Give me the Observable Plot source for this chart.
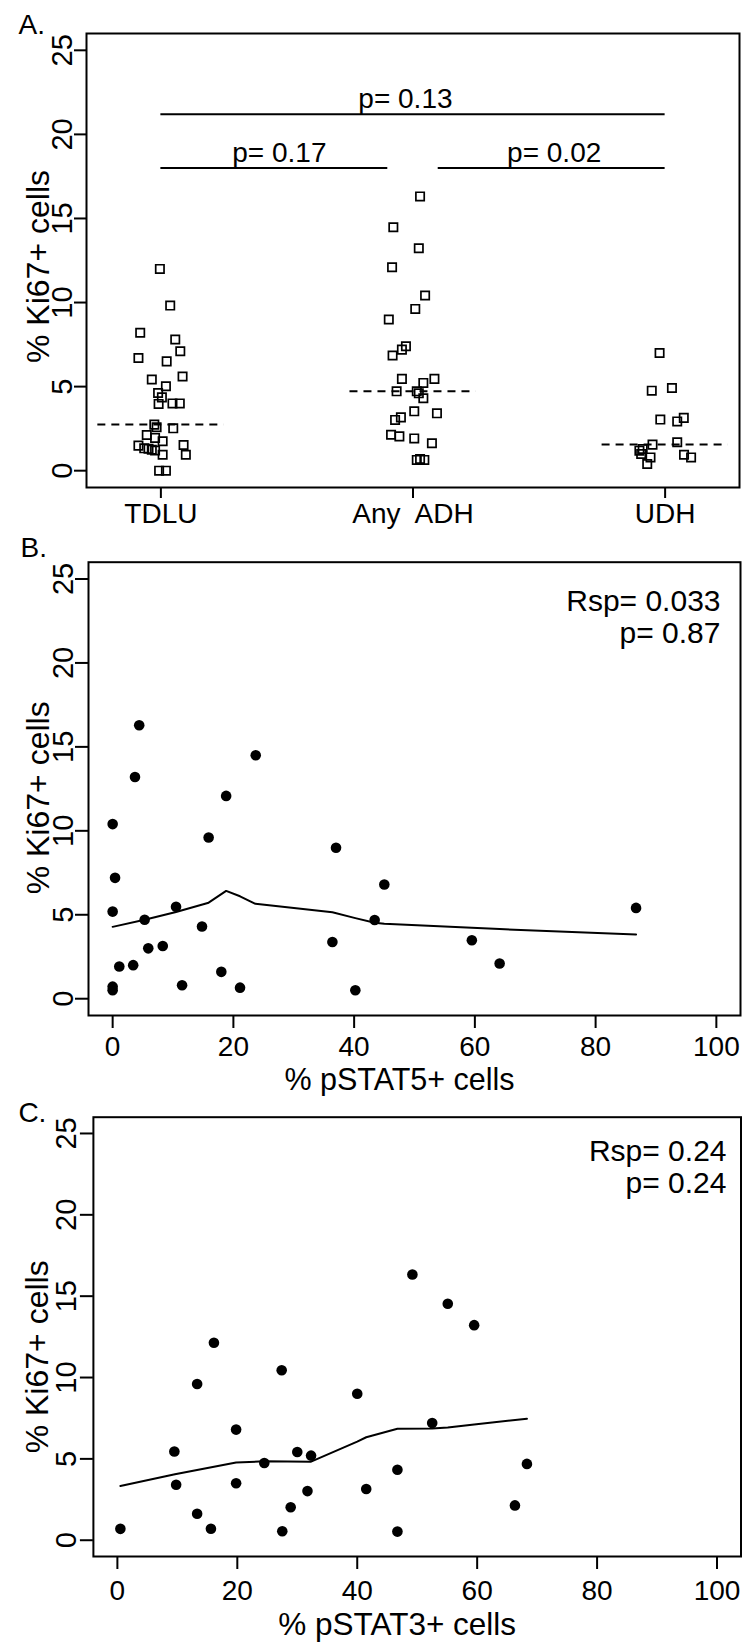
<!DOCTYPE html>
<html><head><meta charset="utf-8">
<script src="https://cdn.jsdelivr.net/npm/d3@7"></script>
<script src="https://cdn.jsdelivr.net/npm/@observablehq/plot@0.6"></script>
<style>
body{margin:0;background:#fff;}
#chart svg{display:block;}
#chart svg text{white-space:pre;}
</style></head><body><div id="chart"></div>
<script>
// ---------- Panel A data ----------
const groups = ["TDLU", "Any  ADH", "UDH"];
const tdluKi67 = [12.0, 9.82, 8.2, 7.8, 7.1, 6.7, 6.5, 5.6, 5.42, 5.02, 4.62, 4.36, 3.97, 4.0, 4.0, 2.74, 2.58, 2.52, 2.12, 1.95, 1.75, 1.49, 1.53, 1.33, 1.3, 1.25, 1.2, 0.95, 0.95, 0.0, 0.0];
const tdluJitter = [-0.004, 0.037, -0.082, 0.057, 0.077, -0.089, 0.023, 0.086, -0.036, 0.02, -0.011, 0.004, -0.009, 0.046, 0.075, -0.026, -0.017, 0.049, -0.056, -0.023, 0.007, -0.089, 0.09, -0.066, -0.049, -0.036, -0.023, 0.007, 0.099, -0.007, 0.02];
const adhKi67 = [16.31, 14.48, 13.23, 12.1, 10.42, 9.62, 8.99, 7.4, 7.2, 6.85, 5.46, 5.46, 5.22, 4.72, 4.72, 4.6, 4.31, 3.53, 3.41, 3.17, 3.02, 2.14, 2.04, 1.92, 1.63, 0.64, 0.7, 0.64];
const adhJitter = [0.028, -0.078, 0.023, -0.083, 0.048, 0.009, -0.096, -0.028, -0.044, -0.081, -0.044, 0.085, 0.041, -0.065, 0.015, 0.023, 0.041, 0.005, 0.095, -0.048, -0.071, -0.087, -0.054, 0.005, 0.075, 0.015, 0.028, 0.045];
const udhKi67 = [7.0, 4.76, 4.92, 3.04, 2.93, 3.14, 1.55, 1.69, 1.19, 0.99, 0.79, 0.4, 0.95, 0.79, 1.29];
const udhJitter = [-0.022, -0.053, 0.027, -0.019, 0.048, 0.074, -0.05, 0.048, -0.102, -0.095, -0.058, -0.071, 0.075, 0.103, -0.089];
const sigFrom = [1, 1, 2.1];
const sigTo = [3, 1.9, 3];
const sigLevel = [21.2, 18.0, 18.0];
const sigLabelX = [1.97, 1.47, 2.56];
const sigLabels = ["p= 0.13", "p= 0.17", "p= 0.02"];

// ---------- Panel B data ----------
const pstat5 = [0, 0.4, 0, 0, 0, 1.1, 3.4, 5.3, 5.9, 8.3, 10.5, 11.5, 14.8, 15.9, 18.0, 21.1, 36.4, 37.0, 40.2, 43.4, 45.0, 59.5, 64.1, 86.7, 4.4, 3.7, 23.7, 18.8];
const ki67B = [10.4, 7.2, 5.19, 0.72, 0.5, 1.92, 2.0, 4.7, 3.0, 3.14, 5.48, 0.8, 4.3, 9.6, 1.6, 0.66, 3.38, 8.99, 0.5, 4.69, 6.8, 3.48, 2.1, 5.41, 16.29, 13.21, 14.5, 12.08];
const lowessBx = [0, 5.3, 10.5, 15.9, 18.8, 21.1, 23.65, 36.4, 40.2, 43.4, 45, 59.5, 64.1, 86.7];
const lowessBy = [4.28, 4.7, 5.16, 5.72, 6.42, 6.1, 5.65, 5.15, 4.8, 4.53, 4.47, 4.22, 4.15, 3.82];
const statsB = ["Rsp= 0.033", "p= 0.87"];

// ---------- Panel C data ----------
const pstat3 = [0.5, 9.5, 9.8, 13.3, 15.6, 13.3, 19.8, 19.8, 24.5, 27.5, 28.9, 30.0, 31.7, 32.3, 40.0, 41.5, 46.7, 46.7, 52.5, 66.3, 68.3, 49.2, 55.1, 59.5, 16.1, 27.4];
const ki67C = [0.7, 5.45, 3.41, 1.63, 0.71, 9.6, 6.8, 3.5, 4.75, 0.55, 2.03, 5.42, 3.02, 5.2, 9.0, 3.15, 4.33, 0.53, 7.2, 2.14, 4.69, 16.33, 14.53, 13.22, 12.14, 10.45];
const lowessCx = [0.5, 9.6, 19.8, 24.5, 32.3, 40.0, 41.5, 46.7, 52.5, 55.1, 59.5, 68.3];
const lowessCy = [3.33, 4.05, 4.78, 4.85, 4.83, 6.06, 6.33, 6.85, 6.87, 6.93, 7.12, 7.47];
const statsC = ["Rsp= 0.24", "p= 0.24"];

// ---------- Axes ----------
const yTicks = [0, 5, 10, 15, 20, 25];
const xTicks = [0, 20, 40, 60, 80, 100];
const yTitle = "% Ki67+ cells";
const xTitleB = "% pSTAT5+ cells";
const xTitleC = "% pSTAT3+ cells";

// ---------- Build tables ----------
const valsA = [tdluKi67, adhKi67, udhKi67];
const jitA = [tdluJitter, adhJitter, udhJitter];
const ptsA = valsA.flatMap((vals, i) => vals.map((v, j) => ({x: i + 1 + jitA[i][j], y: v})));
const medianHalf = 0.25;
const medians = valsA.map((vals, i) => ({x: i + 1, m: d3.median(vals)}));
const sig = sigLabels.map((l, i) => ({x1: sigFrom[i], x2: sigTo[i], y: sigLevel[i], lx: sigLabelX[i], label: l}));
const ptsB = pstat5.map((x, i) => ({x, y: ki67B[i]}));
const lineB = lowessBx.map((x, i) => ({x, y: lowessBy[i]}));
const ptsC = pstat3.map((x, i) => ({x, y: ki67C[i]}));
const lineC = lowessCx.map((x, i) => ({x, y: lowessCy[i]}));

const FONT = "'Liberation Sans', Arial, Helvetica, sans-serif";
const style = {fontFamily: FONT, fontSize: "28px", color: "black", background: "white"};
const TICK = 28, YTICK = 29, YTITLE = 32, PANEL = 28;

const plotA = Plot.plot({
  width: 745, height: 529,
  marginTop: 33, marginBottom: 42, marginLeft: 86, marginRight: 6,
  x: {domain: [0.705, 3.295], axis: null},
  y: {domain: [-1, 26], axis: null},
  style,
  marks: [
    Plot.frame({stroke: "black", strokeWidth: 2}),
    Plot.axisY({ticks: yTicks, tickSize: 12, tickPadding: 3, tickRotate: -90, label: null, fontSize: YTICK, strokeWidth: 2}),
    Plot.axisX({ticks: [1, 2, 3], tickFormat: d => groups[d - 1], tickSize: 11, tickPadding: 5, label: null, fontSize: TICK, strokeWidth: 2}),
    Plot.text([yTitle], {frameAnchor: "left", rotate: -90, dx: -38, dy: 6, textAnchor: "middle", lineAnchor: "bottom", fontSize: YTITLE}),
    Plot.text(["A."], {frameAnchor: "top-left", dx: -68, textAnchor: "start", lineAnchor: "bottom", fontSize: PANEL}),
    Plot.ruleY(sig, {x1: "x1", x2: "x2", y: "y", strokeWidth: 2}),
    Plot.text(sig, {x: "lx", y: "y", text: "label", dy: -6, textAnchor: "middle", lineAnchor: "bottom", fontSize: 28}),
    Plot.ruleY(medians, {x1: d => d.x - medianHalf, x2: d => d.x + medianHalf, y: "m", strokeWidth: 2, strokeDasharray: "8,6"}),
    Plot.dot(ptsA, {x: "x", y: "y", symbol: "square", r: 4.7, stroke: "black", strokeWidth: 1.7, fill: "none"})
  ]
});

function scatter({height, marginTop, marginBottom, marginLeft, marginRight, pts, line, stats, statsDx, statsDy, xTitle, xTitleDy, xTitleDx, xTitleSize, xTickPad, label, labelDx, labelDy, yTitleDx, yTitleDy, yTickSize, yTickPad}) {
  return Plot.plot({
    width: 745, height, marginTop, marginBottom, marginLeft, marginRight,
    x: {domain: [-4, 104], axis: null},
    y: {domain: [-1, 26], axis: null},
    style,
    marks: [
      Plot.frame({stroke: "black", strokeWidth: 2}),
      Plot.axisY({ticks: yTicks, tickSize: yTickSize, tickPadding: yTickPad, tickRotate: -90, label: null, fontSize: YTICK, strokeWidth: 2}),
      Plot.axisX({ticks: xTicks, tickSize: 13, tickPadding: xTickPad, label: null, fontSize: TICK, strokeWidth: 2}),
      Plot.text([yTitle], {frameAnchor: "left", rotate: -90, dx: yTitleDx, dy: yTitleDy, textAnchor: "middle", lineAnchor: "bottom", fontSize: YTITLE}),
      Plot.text([xTitle], {frameAnchor: "bottom", dx: xTitleDx, dy: xTitleDy, textAnchor: "middle", lineAnchor: "bottom", fontSize: xTitleSize}),
      Plot.text([label], {frameAnchor: "top-left", dx: labelDx, dy: labelDy, textAnchor: "start", lineAnchor: "bottom", fontSize: PANEL}),
      Plot.text([stats.join("\n")], {frameAnchor: "top-right", dx: statsDx, dy: statsDy, textAnchor: "end", lineAnchor: "top", lineHeight: 1.06, fontSize: 30}),
      Plot.line(line, {x: "x", y: "y", stroke: "black", strokeWidth: 2}),
      Plot.dot(pts, {x: "x", y: "y", r: 5.3, fill: "black"})
    ]
  });
}

const plotB = scatter({height: 567, marginTop: 32.7, marginBottom: 81, marginLeft: 88, marginRight: 5,
  pts: ptsB, line: lineB, stats: statsB, statsDx: -20, statsDy: 26.6, xTitle: xTitleB, xTitleDy: 74.5, xTitleDx: -15, xTitleSize: 30.5, xTickPad: 8,
  label: "B.", labelDx: -68, labelDy: -5.7, yTitleDx: -40, yTitleDy: 9, yTickSize: 13, yTickPad: 3});
const plotC = scatter({height: 548, marginTop: 20.7, marginBottom: 88, marginLeft: 92.9, marginRight: 4.5,
  pts: ptsC, line: lineC, stats: statsC, statsDx: -14.5, statsDy: 21.6, xTitle: xTitleC, xTitleDy: 78, xTitleDx: -20, xTitleSize: 31.5, xTickPad: 11,
  label: "C.", labelDx: -75, labelDy: 4.8, yTitleDx: -45, yTitleDy: 20, yTickSize: 13, yTickPad: 4});

const chart = document.getElementById("chart");
chart.append(plotA, plotB, plotC);
</script></body></html>
